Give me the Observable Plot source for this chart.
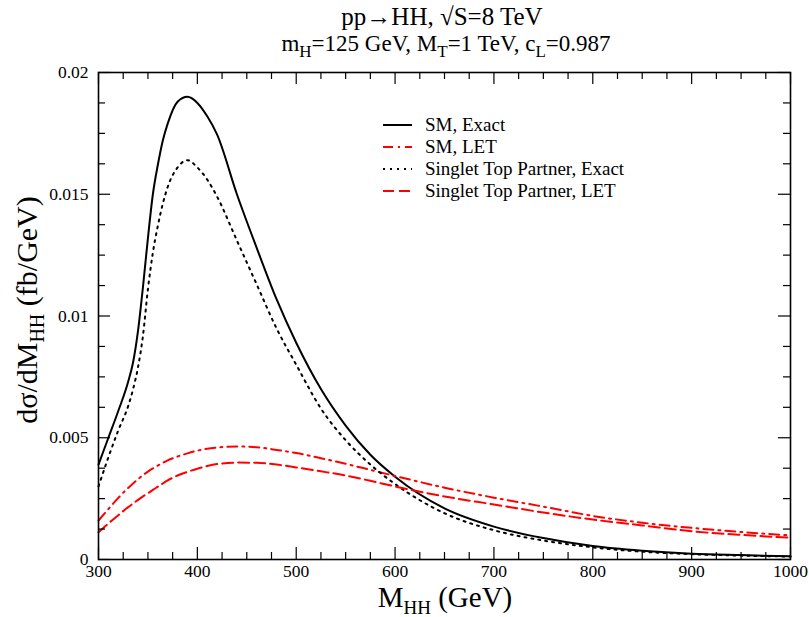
<!DOCTYPE html>
<html><head><meta charset="utf-8">
<script src="https://cdn.jsdelivr.net/npm/d3@7"></script>
<script src="https://cdn.jsdelivr.net/npm/@observablehq/plot@0.6"></script>
<style>body{margin:0;background:#fff} svg{display:block}</style>
</head><body><div id="chart"></div>
<script>
// M_HH grid (GeV)
const mhh = [300,310,320,330,335,340,345,350,355,360,365,370,380,390,400,410,420,440,460,480,500,525,550,575,600,650,700,750,800,850,900,950,1000];
// dσ/dM_HH (fb/GeV)
const smExact = [0.0039,0.0050,0.0061,0.0073,0.0081,0.0094,0.0112,0.0132,0.0150,0.0162,0.0172,0.0179,0.0188,0.0190,0.01875,0.0182,0.01745,0.0150,0.0128,0.0107,0.0089,0.0070,0.0055,0.0043,0.0034,0.0021,0.00135,0.00088,0.00055,0.00036,0.00024,0.00018,0.00013];
const stExact = [0.0030,0.0042,0.0053,0.0063,0.0070,0.0079,0.0092,0.0111,0.0126,0.0137,0.0146,0.0153,0.0161,0.0164,0.0161,0.0156,0.0149,0.0131,0.0113,0.0095,0.0080,0.0062,0.0049,0.0039,0.0031,0.0019,0.0012,0.00078,0.0005,0.00032,0.00022,0.00016,0.00012];
const smLET  = [0.0016,0.00207,0.00253,0.00294,0.00312,0.0033,0.00346,0.00361,0.00374,0.00386,0.00397,0.00407,0.00423,0.00436,0.00447,0.00455,0.0046,0.00464,0.00461,0.0045,0.00437,0.00416,0.00393,0.00368,0.00343,0.00295,0.00254,0.00217,0.00179,0.00151,0.0013,0.00113,0.00099];
const stLET  = [0.00112,0.00148,0.00182,0.00215,0.0023,0.00245,0.00259,0.00272,0.00286,0.00299,0.00312,0.00325,0.00345,0.0036,0.00373,0.00384,0.00392,0.00398,0.00397,0.0039,0.00378,0.00362,0.00345,0.00323,0.003,0.00259,0.00226,0.00193,0.00164,0.0014,0.00116,0.00101,0.0009];

const seriesNames = ["SM, Exact","SM, LET","Singlet Top Partner, Exact","Singlet Top Partner, LET"];
const seriesValues = [smExact, smLET, stExact, stLET];
const seriesColor = ["black","red","black","red"];
const seriesDash = [null,"10,5,2,5","2,5","11,5"];

const xMajor = [300,400,500,600,700,800,900,1000];
const xMinor = d3.range(300,1001,25).filter(v => v % 100 !== 0);
const yMajor = [0,0.005,0.01,0.015,0.02];
const yMinor = d3.range(1,16).map(i => i*0.00125).filter((v,i) => (i+1) % 4 !== 0);

const W = 809, H = 617, ML = 98, MR = 19, MT = 72, MB = 58;
const IW = W - ML - MR, IH = H - MT - MB;
const majLen = 12, minLen = 7;

const marks = [];
seriesValues.forEach((vals,i)=>{
  const rows = mhh.map((x,j)=>({x, y: vals[j]}));
  marks.push(Plot.line(rows,{x:"x",y:"y",stroke:seriesColor[i],strokeWidth:2,strokeDasharray:seriesDash[i],curve:"monotone-x"}));
});
const tk = {stroke:"black", strokeWidth:1.2};
marks.push(
  Plot.tickX(xMajor,{x:d=>d, insetTop:IH-majLen, ...tk}),
  Plot.tickX(xMinor,{x:d=>d, insetTop:IH-minLen, ...tk}),
  Plot.tickX(xMajor,{x:d=>d, insetBottom:IH-majLen, ...tk}),
  Plot.tickX(xMinor,{x:d=>d, insetBottom:IH-minLen, ...tk}),
  Plot.tickY(yMajor,{y:d=>d, insetRight:IW-majLen, ...tk}),
  Plot.tickY(yMinor,{y:d=>d, insetRight:IW-minLen, ...tk}),
  Plot.tickY(yMajor,{y:d=>d, insetLeft:IW-majLen, ...tk}),
  Plot.tickY(yMinor,{y:d=>d, insetLeft:IW-minLen, ...tk}),
  Plot.axisX(xMajor,{anchor:"bottom",tickSize:0,tickPadding:5,label:null,fontSize:17.5,tickFormat:d=>String(d)}),
  Plot.axisY(yMajor,{anchor:"left",tickSize:0,tickPadding:10,label:null,fontSize:17.5,tickFormat:d=>String(+d.toFixed(4))}),
  Plot.frame({stroke:"black",strokeWidth:1.6})
);

const chart = Plot.plot({
  width:W, height:H,
  marginLeft:ML, marginRight:MR, marginTop:MT, marginBottom:MB,
  style:{fontFamily:"'Liberation Serif', serif", fontSize:"17px", color:"black", background:"white"},
  x:{domain:[300,1000]},
  y:{domain:[0,0.02]},
  marks
});
document.getElementById("chart").appendChild(chart);

const svg = d3.select(chart);
const F = "'Liberation Serif', serif";
svg.append("text").attr("x",442).attr("y",25).attr("text-anchor","middle")
  .attr("font-family",F).attr("font-size",25).attr("fill","black").text("pp→HH, √S=8 TeV");
const sub = svg.append("text").attr("x",446).attr("y",51).attr("text-anchor","middle")
  .attr("font-family",F).attr("font-size",23).attr("fill","black");
const subParts = [["m",""],["H","s"],["=125 GeV, M",""],["T","s"],["=1 TeV, c",""],["L","s"],["=0.987",""]];
let shifted=false;
subParts.forEach(([t,k])=>{
  const ts = sub.append("tspan").text(t);
  if(k==="s"){ ts.attr("dy",6).attr("font-size",17); shifted=true; }
  else if(shifted){ ts.attr("dy",-6); shifted=false; }
});
const xl = svg.append("text").attr("x",445).attr("y",607).attr("text-anchor","middle")
  .attr("font-family",F).attr("font-size",29).attr("fill","black");
xl.append("tspan").text("M");
xl.append("tspan").attr("dy",7).attr("font-size",19).text("HH");
xl.append("tspan").attr("dy",-7).text(" (GeV)");
const yl = svg.append("text").attr("transform","translate(37,310) rotate(-90)").attr("text-anchor","middle")
  .attr("font-family",F).attr("font-size",30).attr("fill","black");
yl.append("tspan").text("dσ/dM");
yl.append("tspan").attr("dy",7).attr("font-size",20).text("HH");
yl.append("tspan").attr("dy",-7).text(" (fb/GeV)");
const lg = svg.append("g");
seriesNames.forEach((name,i)=>{
  const y = 125 + i*22;
  lg.append("line").attr("x1",383).attr("x2",412).attr("y1",y).attr("y2",y)
    .attr("stroke",seriesColor[i]).attr("stroke-width",2).attr("stroke-dasharray",seriesDash[i]);
  lg.append("text").attr("x",425).attr("y",y+5.5).attr("text-anchor","start")
    .attr("font-family",F).attr("font-size",19).attr("fill","black").text(name);
});
</script>
</body></html>
